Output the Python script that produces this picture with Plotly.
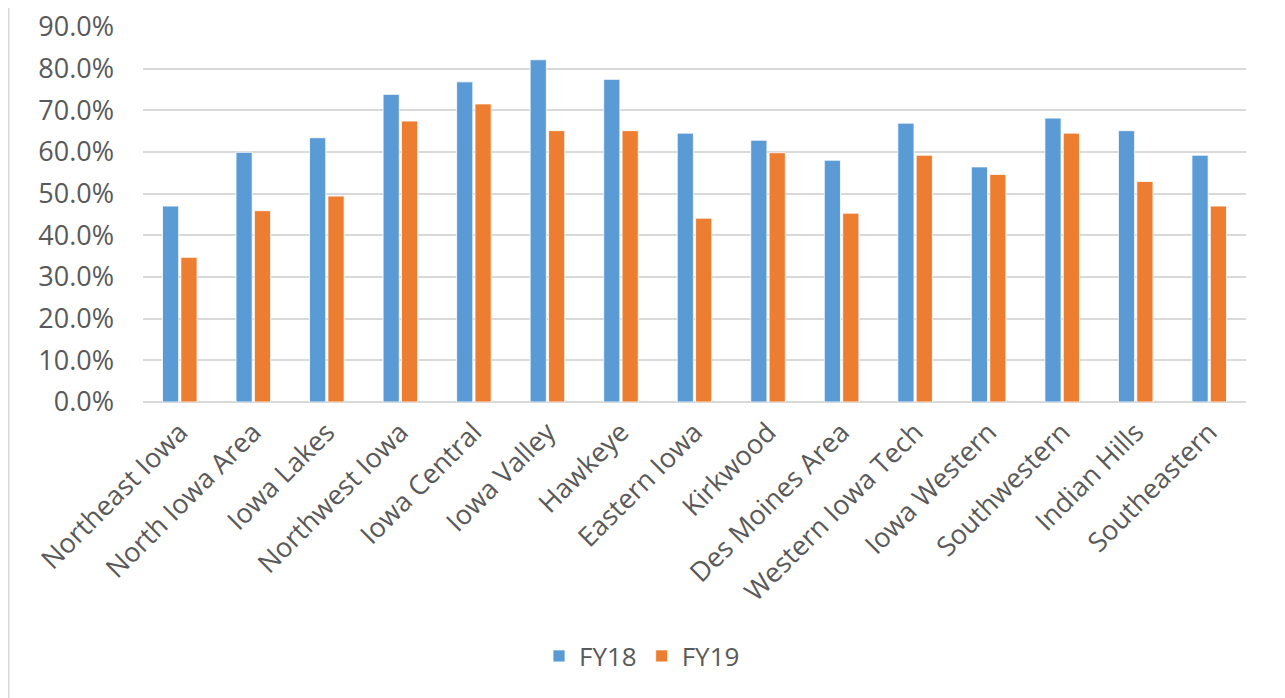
import plotly.graph_objects as go

categories = ["Northeast Iowa", "North Iowa Area", "Iowa Lakes", "Northwest Iowa",
              "Iowa Central", "Iowa Valley", "Hawkeye", "Eastern Iowa", "Kirkwood",
              "Des Moines Area", "Western Iowa Tech", "Iowa Western", "Southwestern",
              "Indian Hills", "Southeastern"]
fy18 = [0.470, 0.599, 0.634, 0.738, 0.768, 0.821, 0.774, 0.645, 0.628,
        0.580, 0.669, 0.564, 0.681, 0.651, 0.592]
fy19 = [0.347, 0.459, 0.494, 0.674, 0.715, 0.651, 0.651, 0.441, 0.598,
        0.453, 0.592, 0.546, 0.645, 0.529, 0.470]
y_ticks = [0.0, 0.1, 0.2, 0.3, 0.4, 0.5, 0.6, 0.7, 0.8, 0.9]

font_family = "Open Sans, Lato, sans-serif"
text_color = "#595959"
FS = 27

W, H = 1277, 690
L, R, T, B = 135, 39, 18, 296
PW = W - L - R
PH = H - T - B

fig = go.Figure()
fig.add_trace(go.Bar(name="FY18", x=categories, y=fy18,
                     marker=dict(color="#5B9BD5", line=dict(color="white", width=0.8))))
fig.add_trace(go.Bar(name="FY19", x=categories, y=fy19,
                     marker=dict(color="#ED7D31", line=dict(color="white", width=0.8))))

fig.update_layout(
    width=W, height=H,
    margin=dict(l=L, r=R, t=T, b=B, autoexpand=False),
    plot_bgcolor="white", paper_bgcolor="white",
    barmode="group", bargap=0.5, bargroupgap=0.12,
    font=dict(family=font_family, color=text_color, size=FS),
    legend=dict(orientation="h", x=(642 - 8 - L) / PW, xanchor="center",
                y=(T + PH - (656 - 8)) / PH, yanchor="middle",
                font=dict(size=FS - 1, color=text_color), itemwidth=30,
                traceorder="normal"),
    showlegend=True,
)
fig.update_yaxes(range=[0, 0.902], tickmode="array", tickvals=y_ticks,
                 tickformat=".1%", ticklabeloverflow="allow", ticklabelstandoff=28,
                 showgrid=True, gridcolor="#D9D9D9", gridwidth=1.5,
                 zeroline=True, zerolinecolor="#D9D9D9", zerolinewidth=1.5,
                 showline=False, ticks="", ticklen=0, automargin=False,
                 tickfont=dict(size=FS, color=text_color))
fig.update_xaxes(tickangle=-45, showline=False, ticks="", automargin=False,
                 ticklabelstandoff=8,
                 tickfont=dict(size=FS, color=text_color))

# chart border (left and right edges)
for px in (0.8, W - 2):
    fig.add_shape(type="line", xref="paper", yref="paper",
                  x0=(px - L) / PW, x1=(px - L) / PW,
                  y0=(T + PH - H) / PH, y1=(T + PH) / PH,
                  line=dict(color="#D9D9D9", width=1.5))

fig.write_html("out.html")
